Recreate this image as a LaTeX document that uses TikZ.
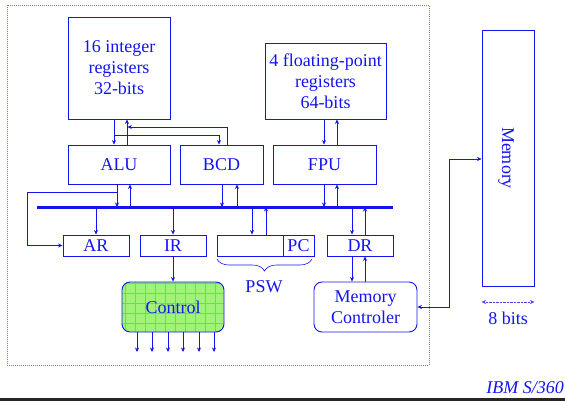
\documentclass[tikz,border=0pt]{standalone}
\usepackage{fontspec}
\setmainfont{LiberationSerif}[Extension=.ttf,UprightFont=*-Regular,ItalicFont=*-Italic,BoldFont=*-Bold]
\usetikzlibrary{arrows.meta,decorations.pathreplacing}
\definecolor{ink}{RGB}{20,20,240}
\definecolor{ctlfill}{RGB}{160,242,120}
\definecolor{ctlgrid}{RGB}{110,222,70}
\begin{document}
\begin{tikzpicture}[x=1pt,y=-1pt,
  font=\rmfamily\fontsize{18}{21}\selectfont,
  box/.style={draw=ink,line width=0.9pt,text=ink,inner sep=0pt,align=center},
  rbox/.style={box,rounded corners=8pt},
  lbl/.style={text=ink,inner sep=0pt},
  tip/.tip={Stealth[length=4.5pt,width=4pt]},
  arr/.style={draw=ink,line width=0.6pt,-tip},
  biarr/.style={draw=ink,line width=0.6pt,tip-tip},
]
\useasboundingbox (0,0) rectangle (565,401);

% CPU frame
\draw[ink!60,dash pattern=on 1pt off 1pt,line width=0.5pt] (7,5) rectangle (429,365);

% registers and units
\node[box,minimum width=102pt,minimum height=102pt] (ireg) at (119,68) {16 integer\\registers\\32-bits};
\node[box,minimum width=121pt,minimum height=76pt] (freg) at (325.5,81) {4 floating-point\\registers\\64-bits};
\node[box,minimum width=102pt,minimum height=39pt] (alu) at (119,164.5) {ALU};
\node[box,minimum width=83pt,minimum height=39pt] (bcd) at (221.5,164.5) {BCD};
\node[box,minimum width=103pt,minimum height=39pt] (fpu) at (324.5,164.5) {FPU};

\node[box,minimum width=66pt,minimum height=21pt] (ar) at (96,245.5) {AR};
\node[box,minimum width=66pt,minimum height=21pt] (ir) at (173,245.5) {IR};
\node[box,minimum width=66pt,minimum height=21pt] (psw) at (250,245.5) {};
\node[box,minimum width=31pt,minimum height=21pt] (pc) at (298.5,245.5) {PC};
\node[box,minimum width=66pt,minimum height=21pt] (dr) at (360,245.5) {DR};

\node[rbox,fill=ctlfill,minimum width=102pt,minimum height=50pt,
  path picture={\draw[ctlgrid,line width=0.4pt]
    (path picture bounding box.south west) grid[step=10pt]
    (path picture bounding box.north east);}] (ctl) at (173,307) {Control};
\node[rbox,minimum width=103pt,minimum height=50pt] (mc) at (365.5,307) {Memory\\Controler};

\node[box,minimum width=52pt,minimum height=256pt] (mem) at (508,158) {};
\node[lbl,rotate=-90] (memlbl) at (506,158) {Memory};

% bus
\coordinate (busw) at (37,207);
\coordinate (buse) at (393,207);
\draw[ink,line width=3pt] (busw) -- (buse);

% register file <-> ALU, BCD
\draw[arr] (ireg.south -| 114,0) -- (alu.north -| 114,0);
\draw[arr] (alu.north -| 127,0) -- (ireg.south -| 127,0);
\draw[arr] (bcd.north -| 227,0) |- (127.4,127);
\draw[arr] (114,135) -| (bcd.north -| 219,0);

% FP registers <-> FPU
\draw[arr] (freg.south -| 324,0) -- (fpu.north -| 324,0);
\draw[arr] (fpu.north -| 337,0) -- (freg.south -| 337,0);

% units <-> bus
\draw[arr] (alu.south -| 117,0) -- (busw -| 117,0);
\draw[arr] (busw -| 130,0) -- (alu.south -| 130,0);
\draw[arr] (bcd.south -| 222,0) -- (busw -| 222,0);
\draw[arr] (busw -| 237,0) -- (bcd.south -| 237,0);
\draw[arr] (fpu.south -| 324,0) -- (busw -| 324,0);
\draw[arr] (busw -| 337,0) -- (fpu.south -| 337,0);

% bus <-> registers
\draw[arr] (busw -| 96,0) -- (ar.north -| 96,0);
\draw[arr] (busw -| 173,0) -- (ir.north);
\draw[arr] (busw -| 252,0) -- (psw.north -| 252,0);
\draw[arr] (psw.north -| 266,0) -- (busw -| 266,0);
\draw[arr] (busw -| 352,0) -- (dr.north -| 352,0);
\draw[arr] (dr.north -| 365,0) -- (busw -| 365,0);

% ALU output to AR
\draw[arr] (117,192) -| (27,0 |- ar.west) -- (ar.west);

% IR to control, control outputs
\draw[arr] (ir.south) -- (ctl.north);
\foreach \i/\x in {1/137,2/152,3/168,4/183,5/199,6/214}{
  \coordinate (out\i) at (\x,352);
  \draw[arr] (ctl.south -| out\i) -- (out\i);
}

% DR <-> memory controller
\draw[arr] (dr.south -| 352,0) -- (mc.north -| 352,0);
\draw[arr] (mc.north -| 365,0) -- (dr.south -| 365,0);

% memory controller <-> memory
\draw[biarr] (mc.east) -- ++(32,0) |- (mem.west |- 0,159);

% PSW brace
\draw[ink,line width=0.6pt,decorate,decoration={brace,mirror,amplitude=12pt}] (217,259) -- (312,259);
\node[lbl] (pswlbl) at (264,287) {PSW};

% memory width
\draw[ink!80,line width=0.4pt,densely dotted,tip-tip] (mem.south west |- 0,302) -- (mem.south east |- 0,302);
\node[lbl] (bits) at (508,318) {8 bits};

% caption and rule
\node[lbl,anchor=base east,font=\rmfamily\fontsize{18}{21}\selectfont\itshape] (tag) at (564,393) {IBM S/360};
\draw[black!85,line width=2.5pt] (0,399.5) -- (565,399.5);
\end{tikzpicture}
\end{document}
